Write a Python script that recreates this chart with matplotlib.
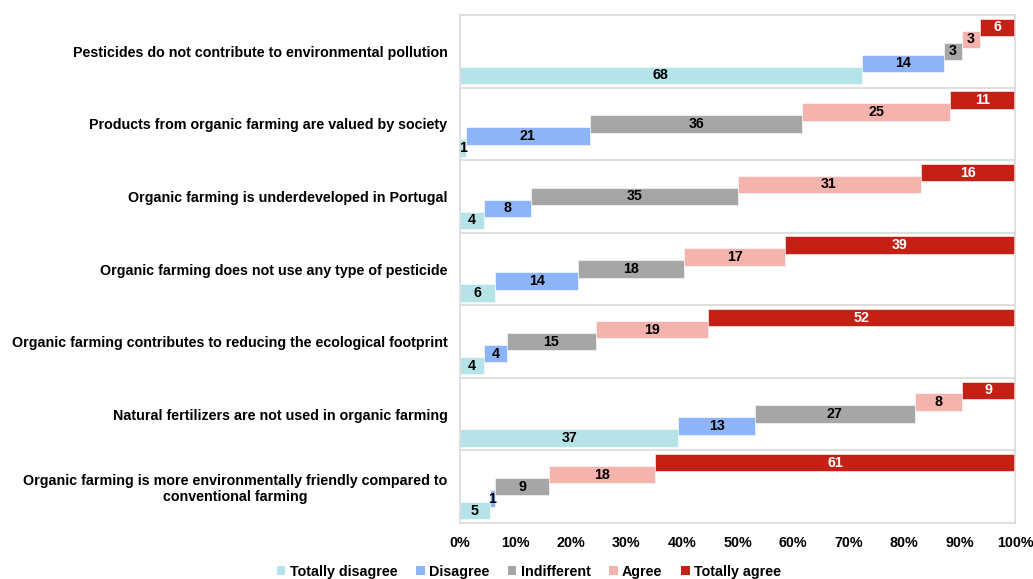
import numpy as np
import matplotlib
matplotlib.use("Agg")
import matplotlib.pyplot as plt
from matplotlib.patches import Patch

plt.rcParams['font.family'] = ['Liberation Sans', 'DejaVu Sans']
plt.rcParams['font.weight'] = 'bold'

statements = [
    "Pesticides do not contribute to environmental pollution",
    "Products from organic farming are valued by society",
    "Organic farming is underdeveloped in Portugal",
    "Organic farming does not use any type of pesticide",
    "Organic farming contributes to reducing the ecological footprint",
    "Natural fertilizers are not used in organic farming",
    "Organic farming is more environmentally friendly compared to\nconventional farming",
]
levels = ["Totally disagree", "Disagree", "Indifferent", "Agree", "Totally agree"]
colors = ["#B4E4E8", "#8EB4F8", "#A6A6A6", "#F5B3AE", "#C32116"]

totally_disagree = [68, 1, 4, 6, 4, 37, 5]
disagree = [14, 21, 8, 14, 4, 13, 1]
indifferent = [3, 36, 35, 18, 15, 27, 9]
agree = [3, 25, 31, 17, 19, 8, 18]
totally_agree = [6, 11, 16, 39, 52, 9, 61]

counts = np.array([totally_disagree, disagree, indifferent, agree, totally_agree])
shares = counts / counts.sum(axis=0)
starts = np.vstack([np.zeros(len(statements)), np.cumsum(shares, axis=0)[:-1]])

fig = plt.figure(figsize=(10.33, 5.79), dpi=100)
ax = fig.add_axes([0.4453, 0.0967, 0.5373, 0.8773])

step = 0.165
height = 0.24
rows = np.arange(len(statements))
for j in range(len(levels)):
    y = rows + 0.5 + (2 - j) * step
    ax.barh(y, shares[j], left=starts[j], height=height, color=colors[j],
            edgecolor="white", linewidth=0.4)
    for i in rows:
        ax.text(starts[j, i] + shares[j, i] / 2, y[i], str(counts[j, i]),
                ha="center", va="center", fontsize=10.3, fontweight="bold",
                color="white" if j == 4 else "black")

ax.set_ylim(len(statements), 0)
ax.set_xlim(0, 1)
ax.set_yticks(rows + 0.5)
ax.set_yticklabels(statements, fontsize=10.3, fontweight="bold", multialignment="center")
ax.set_xticks(np.linspace(0, 1, 11))
ax.set_xticklabels([f"{int(v)}%" for v in np.linspace(0, 100, 11)], fontsize=10.3, fontweight="bold")
ax.tick_params(axis="x", length=0, pad=9)
ax.tick_params(axis="y", length=0, pad=9)
for k in range(1, len(statements)):
    ax.axhline(k, color="#D9D9D9", linewidth=1.2, zorder=0)
for s in ax.spines.values():
    s.set_color("#D9D9D9")
    s.set_linewidth(1.2)

handles = [Patch(facecolor=c, label=l) for c, l in zip(colors, levels)]
fig.legend(handles=handles, loc="lower center", bbox_to_anchor=(0.512, -0.022), ncol=5,
           frameon=False, handlelength=0.6, handleheight=0.6, handletextpad=0.3,
           columnspacing=1.3, prop={"size": 10.3, "weight": "bold"})

fig.savefig("out.png", dpi=100)
